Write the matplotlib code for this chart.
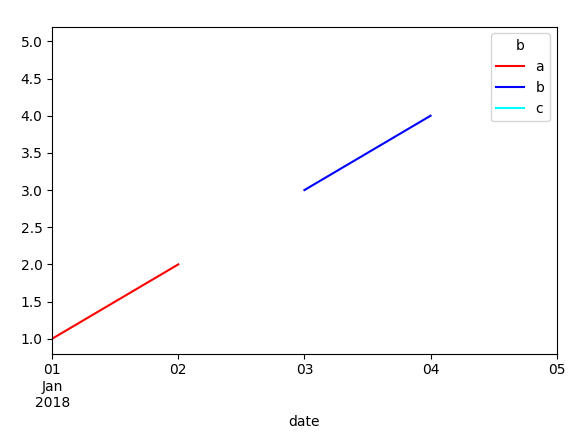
import pandas as pd
import matplotlib
matplotlib.use('Agg')
import matplotlib.pyplot as plt
import matplotlib.dates as mdates

# datos del gráfico
fechas = pd.to_datetime(['2018-01-01', '2018-01-02', '2018-01-03', '2018-01-04', '2018-01-05'])
serie_a = [1, 2, None, None, None]
serie_b = [None, None, 3, 4, None]
serie_c = [None, None, None, None, 5]
nombres = ['a', 'b', 'c']
colores = ['red', 'blue', 'cyan']
etiquetas_x = ['01\nJan\n2018', '02', '03', '04', '05']

df = pd.DataFrame({'a': serie_a, 'b': serie_b, 'c': serie_c}, index=fechas, dtype=float)

fig, ax = plt.subplots(figsize=(5.86, 4.42), dpi=100)
fig.subplots_adjust(left=0.089, right=0.95, top=0.94, bottom=0.2)

for nombre, color in zip(nombres, colores):
    ax.plot(df.index, df[nombre], color=color, label=nombre)

ax.set_xlim(fechas[0], fechas[-1])
ax.set_ylim(0.8, 5.2)
ax.set_yticks([1.0, 1.5, 2.0, 2.5, 3.0, 3.5, 4.0, 4.5, 5.0])
ax.set_xticks(fechas)
ax.set_xticklabels(etiquetas_x)
ax.xaxis.set_minor_locator(plt.NullLocator())
ax.set_xlabel('date')
ax.legend(title='b', loc='upper right')

plt.savefig('out.png', dpi=100)
